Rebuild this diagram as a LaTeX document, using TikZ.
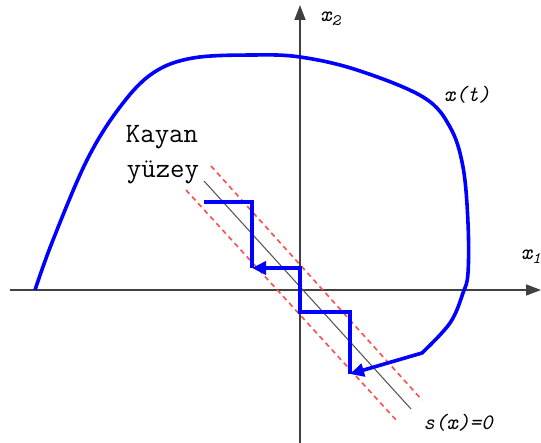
\documentclass[tikz,border=0pt]{standalone}
\usepackage{fontspec}
\setmainfont{Liberation Serif}
\usetikzlibrary{arrows.meta}
\newcommand{\lowsub}[1]{\raisebox{-0.45ex}{\fontsize{16}{16}\selectfont #1}}

\begin{document}
\begin{tikzpicture}[x=1pt, y=-1pt,
    axis/.style={line width=1.5pt, draw=black!75, -{Triangle[length=15pt,width=11pt]}},
    traj/.style={line width=3.6pt, draw=blue, line join=miter},
    tip/.style={-{Triangle[length=14pt,width=13pt]}},
    surf/.style={line width=1.1pt, draw=black!65},
    band/.style={line width=1.6pt, draw=red!70, dash pattern=on 5pt off 4pt},
    lbl/.style={font=\fontsize{28}{30}\selectfont\ttfamily, inner sep=0pt, anchor=base},
    mlbl/.style={font=\fontsize{22}{24}\selectfont\ttfamily\itshape, inner sep=0pt}
]
    \useasboundingbox (0,0) rectangle (541,443);

    % axes
    \coordinate (xa) at (10,290);
    \coordinate (xb) at (541,290);
    \coordinate (ya) at (300,443);
    \coordinate (yb) at (300,5);
    \draw[axis] (xa) -- (xb);
    \draw[axis] (ya) -- (yb);

    % sliding surface and boundary layer
    \coordinate (s0) at (204,181);
    \coordinate (s1) at (411,409);
    \coordinate (u0) at (211,166);
    \coordinate (u1) at (422,400);
    \coordinate (l0) at (186,190);
    \coordinate (l1) at (397,421);
    \draw[surf] (s0) -- (s1);
    \draw[band] (u0) -- (u1);
    \draw[band] (l0) -- (l1);

    % trajectory x(t)
    \coordinate (hit) at (350,374);
    \draw[traj, tip] plot[smooth, tension=0.6] coordinates {
        (35,290) (53,240) (87,160) (120,107) (153,73) (193,58) (253,55)
        (300,57) (357,70) (423,97) (450,127) (463,167) (468,223)
        (468,273) (463,293) (450,323) (422,353)} -- (hit);

    % chattering along the surface
    \coordinate (c1) at (350,312);
    \coordinate (c2) at (300,312);
    \coordinate (c3) at (300,268);
    \coordinate (c4) at (252,268);
    \coordinate (c5) at (252,202);
    \coordinate (c6) at (204,202);
    \draw[traj, tip] (hit) -- (c1) -- (c2) -- (c3) -- (c4);
    \draw[traj] (c4) -- (c5) -- (c6);

    % labels
    \node[lbl] (kayan) at (162,143) {Kayan};
    \node[lbl] (yuzey) at (163,178) {yüzey};
    \node[mlbl] (xt) at (467,95) {x(t)};
    \node[mlbl, anchor=west] (xtwo) at (320,19) {x\lowsub{2}};
    \node[mlbl, anchor=east] (xone) at (541,257) {x\lowsub{1}};
    \node[mlbl] (sx) at (458,423) {s(x)=0};
\end{tikzpicture}
\end{document}
